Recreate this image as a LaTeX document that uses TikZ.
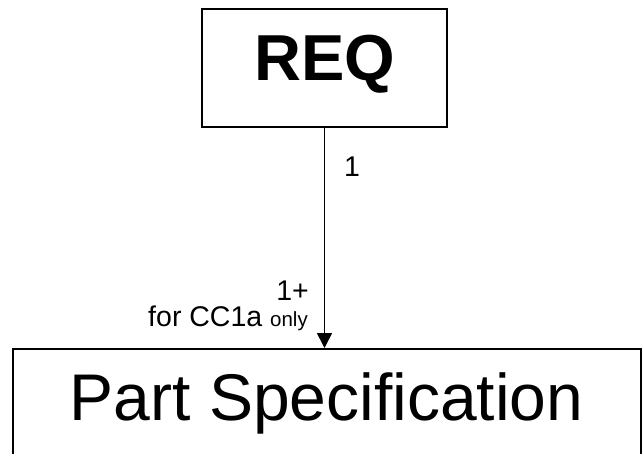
\documentclass[tikz,border=0pt]{standalone}
\usepackage{fontspec}
\setmainfont{Liberation Sans}
\usetikzlibrary{arrows.meta}
\tikzset{
  umlbox/.style={draw=black, line width=2pt, inner sep=0pt, fill=white},
  bigtitle/.style={inner sep=0pt, font=\fontsize{66}{79}\selectfont},
  mult/.style={inner sep=0pt, font=\fontsize{28.5}{34}\selectfont},
  assoc/.style={line width=1.7pt, -{Triangle[length=15pt,width=15pt]}}
}
\begin{document}
\begin{tikzpicture}[x=1pt,y=-1pt]
  \clip (0,0) rectangle (644,453);
  \fill[white] (0,0) rectangle (644,453);

  % requirement class
  \node[umlbox, minimum width=245pt, minimum height=118pt] (req) at (324.5,68) {};
  \node[bigtitle, font=\fontsize{65}{78}\selectfont\bfseries, anchor=base] (reqtext) at (325,80) {REQ};

  % part specification class (runs off the lower edge)
  \node[umlbox, minimum width=628pt, minimum height=150pt, anchor=north] (part) at (327,348) {};
  \node[bigtitle, anchor=base] (parttext) at (326.5,420) {Part Specification};

  % association with multiplicities
  \draw[assoc] (req.south) -- (req.south |- part.north);
  \node[mult, anchor=base west] (multtop) at (344,176) {1};
  \node[mult, anchor=base east] (multbot) at (309,300) {1+};
  \node[mult, anchor=base east] (cond) at (308,326) {for CC1a {\fontsize{20.5}{24}\selectfont only}};
\end{tikzpicture}
\end{document}
